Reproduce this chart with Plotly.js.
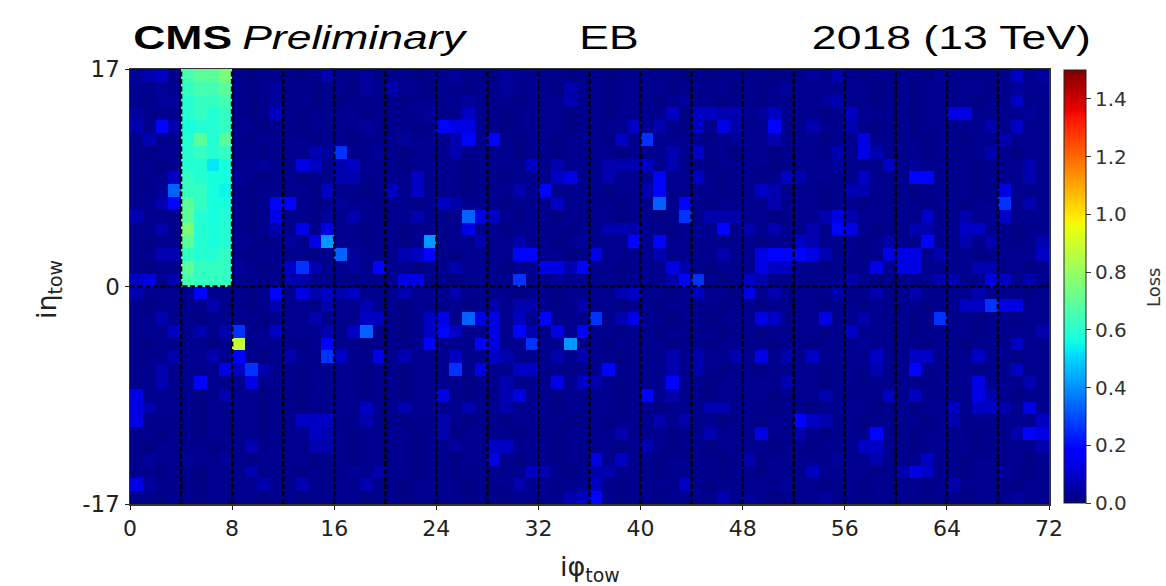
<!DOCTYPE html>
<html>
<head>
<meta charset="utf-8">
<script src="https://cdn.plot.ly/plotly-3.0.1.min.js"></script>
<style>
  html, body { margin: 0; padding: 0; background: #fff; }
  #chart { width: 1166px; height: 586px; }
</style>
</head>
<body>
<div id="chart"></div>
<script>
// Loss per trigger tower in the ECAL barrel (EB), 72 iphi x 34 ieta towers.
// Each row string holds one ieta ring (iphi 0..71, grouped by 4-tower sectors);
// every character is a code looked up in LEVEL_CODES / LEVEL_VALUES.
const LEVEL_CODES  = '0123456789abcdefghi';
const LEVEL_VALUES = [0.005, 0.018, 0.035, 0.06, 0.09, 0.13, 0.19, 0.26, 0.33, 0.41,
                      0.53, 0.55, 0.57, 0.59, 0.62, 0.65, 0.69, 0.75, 0.88];

// EB+ rings, ieta bin [16,17] first, down to [0,1]
const etaPlusRows = [
  '2341 fggh 1011 1013 1120 1101 1211 0211 1101 1011 1110 1011 1101 1213 1011 1102 1111 1412',
  '1121 effg 1012 1101 1021 3110 1101 1211 1031 1011 1101 1110 1012 1111 1101 1011 1110 1211',
  '1122 deef 1012 1101 0111 1011 1121 1101 1131 1011 1012 1101 1011 1123 1101 1011 1101 1411',
  '2111 dede 1014 1011 1101 1112 1141 1011 1101 1011 1140 4433 1241 1101 4111 1011 5511 1121',
  '3163 cdde 1101 1011 1121 1101 6551 1011 1101 1114 1310 4153 1161 1311 3101 1011 1113 1411',
  '1311 dgdg 1011 1101 1011 1211 1361 6101 1011 1041 7111 1012 1131 1101 1511 1101 1011 3111',
  '1011 dede 1101 1132 7112 1011 1311 1101 1011 1101 1131 4110 1101 1113 1531 1101 1113 1011',
  '1101 ddac 1121 1541 3411 1011 1101 1114 1311 1333 4131 1011 1101 1112 1114 1211 1101 1131',
  '1114 edcc 2101 1011 3311 1141 1101 1011 1451 1311 1611 4101 1014 3111 1411 1661 1101 1131',
  '1128 eecb 1011 1104 1101 4141 1101 1131 6111 1011 3611 1101 1431 1101 3311 1011 1101 5111',
  '1136 gecc 1016 6101 2110 1101 4311 1011 1411 1101 1816 1011 1131 1101 1011 1101 1011 7131',
  '3111 gdcd 1015 1102 1311 1131 1185 4101 1011 1101 1017 1333 1101 1135 3111 1141 1311 4111',
  '1131 hdcd 1013 1515 1101 1011 1151 1011 1101 1333 1101 1161 3131 1316 5101 1331 1441 1011',
  '1011 gdcd 1101 2159 1101 1019 1113 1131 1012 1116 1611 1101 1011 4311 1013 1161 1313 1013',
  '1133 edde 1011 1101 8211 1346 1011 1166 1101 5111 1311 1131 1566 6531 1015 5513 1101 1114',
  '1011 geee 2101 4731 1216 1101 1311 1011 5536 1101 1153 1011 1544 1101 1151 5511 1133 1101',
  '4513 feee 1101 3311 1011 1551 1011 1171 1211 1101 1136 7101 4311 1011 3101 1113 3115 4131'
];

// EB- rings, ieta bin [-1,0] first, down to [-17,-16]
const etaMinusRows = [
  '3111 1611 1016 1534 3411 1311 1311 1101 1011 1134 1101 4110 5131 1113 1131 1311 1131 1101',
  '1011 1131 1013 1103 1131 1011 1101 3133 1013 1101 1011 1101 1011 1101 1011 1101 1447 5511',
  '1131 1011 1101 1131 1144 1014 5185 5141 6111 7135 1101 1011 1541 1151 1311 1017 1101 1011',
  '1114 1313 7114 1113 1481 1014 6411 5163 1516 1101 1011 1101 1011 1101 4111 1011 1101 1113',
  '1011 1101 i111 1016 1101 1016 1116 5117 1191 1011 1101 1011 1101 1011 1211 1101 1011 1411',
  '1113 1131 6101 3117 4115 1311 1411 4311 1313 1101 1131 3113 1513 1411 1141 1441 1141 1011',
  '1131 1115 4731 1011 1101 1011 1715 1144 1101 1611 1131 3101 1011 1101 1131 1611 1101 1411',
  '1131 1611 1511 1011 1101 1011 1101 1311 1514 3101 1161 1011 1113 1101 1011 1101 1151 1131',
  '5111 1013 1101 1011 1101 1011 5101 1351 1011 1101 6131 1011 1101 1131 1114 1411 1153 1011',
  '5311 1011 1101 1011 1141 1311 1131 1311 1011 1101 1011 1331 1101 1011 1101 1011 4144 3151',
  '5111 1011 1101 1444 1131 1011 3101 1011 1101 1011 1313 1101 1011 6431 1011 1101 3111 1114',
  '1101 1011 1101 1143 1011 1101 3011 1101 1011 1131 1101 1311 1511 3101 1161 1011 1101 1365',
  '1011 1101 1311 1133 1011 1101 1211 4411 1011 1101 3101 1011 1101 1011 1441 1011 1101 1113',
  '1211 2112 1011 1101 1011 1101 1011 5101 1011 5141 1011 1101 3011 1112 1131 1141 1011 1101',
  '1101 1011 1311 1011 1213 1101 1011 1114 3101 3311 1011 1101 1011 1411 1101 3541 1011 2101',
  '5211 1011 1131 1311 1131 1011 1101 1131 1011 4101 1114 1011 1112 1101 1011 1101 3111 1011',
  '1101 1011 1101 1011 1101 1011 1101 1011 1134 6101 1011 1131 2101 1121 1011 1101 1011 1211'
];

const phiTickVals = [0, 8, 16, 24, 32, 40, 48, 56, 64, 72];
const etaTickVals = [-17, 0, 17];
const lossTickVals = [0.0, 0.2, 0.4, 0.6, 0.8, 1.0, 1.2, 1.4];
const lossTickText = ['0.0', '0.2', '0.4', '0.6', '0.8', '1.0', '1.2', '1.4'];

// decode a ring string into loss values
function decodeRow(s) {
  return s.replace(/ /g, '').split('').map(ch => LEVEL_VALUES[LEVEL_CODES.indexOf(ch)]);
}
// heatmap rows go bottom (ieta -17) to top (ieta +17)
const z = etaPlusRows.concat(etaMinusRows).map(decodeRow).reverse();

// matplotlib "jet"
const jet = [
  [0.000, 'rgb(0,0,128)'],
  [0.110, 'rgb(0,0,255)'],
  [0.125, 'rgb(0,0,255)'],
  [0.340, 'rgb(0,219,255)'],
  [0.350, 'rgb(0,230,247)'],
  [0.375, 'rgb(20,255,226)'],
  [0.640, 'rgb(239,255,8)'],
  [0.650, 'rgb(247,245,0)'],
  [0.660, 'rgb(255,236,0)'],
  [0.890, 'rgb(255,19,0)'],
  [0.910, 'rgb(232,0,0)'],
  [1.000, 'rgb(128,0,0)']
];

// plot frame in pixels
const L = 130, R = 1049, T = 69, B = 504;
const W = R - L, H = B - T;
const px2x = px => (px - L) / W;
const px2y = py => (B - py) / H;

// dashed sector boundaries every 4 towers in iphi, and ieta = 0
const DASH = {color: 'black', width: 2.5, dash: '5px,2.5px'};
const shapes = [];
for (let p = 4; p < 72; p += 4) {
  shapes.push({type: 'line', xref: 'x', yref: 'y', x0: p, x1: p, y0: -17, y1: 17,
               layer: 'above', line: DASH});
}
shapes.push({type: 'line', xref: 'x', yref: 'y', x0: 0, x1: 72, y0: 0, y1: 0,
             layer: 'above', line: DASH});

const TITLE_FONT = 'Liberation Sans, Arial, Helvetica, sans-serif';
const AXIS_FONT = 'DejaVu Sans, sans-serif';

const trace = {
  type: 'heatmap',
  z: z,
  x0: 0.5, dx: 1,
  y0: -16.5, dy: 1,
  zmin: 0, zmax: 1.5,
  colorscale: jet,
  zsmooth: false,
  hoverinfo: 'skip',
  colorbar: {
    x: px2x(1064), xanchor: 'left', xpad: 0,
    y: 0.5, yanchor: 'middle', ypad: 0,
    len: 0.995, lenmode: 'fraction',
    thickness: 22, thicknessmode: 'pixels',
    outlinewidth: 1, outlinecolor: '#222',
    ticks: 'outside', ticklen: 5, tickcolor: '#333',
    tickvals: lossTickVals, ticktext: lossTickText,
    tickfont: {family: AXIS_FONT, size: 20, color: '#333'}
  }
};

const layout = {
  width: 1166, height: 586,
  margin: {l: L, r: 1166 - R, t: T, b: 586 - B, pad: 0},
  paper_bgcolor: '#fff', plot_bgcolor: '#fff',
  showlegend: false,
  xaxis: {
    range: [0, 72], tickvals: phiTickVals, ticktext: phiTickVals.map(String),
    ticks: 'outside', ticklen: 4, tickcolor: '#222',
    showline: true, mirror: true, linecolor: '#333', linewidth: 1.5,
    showgrid: false, zeroline: false,
    tickfont: {family: AXIS_FONT, size: 22, color: '#222'}
  },
  yaxis: {
    range: [-17, 17], tickvals: etaTickVals, ticktext: etaTickVals.map(String),
    ticks: 'outside', ticklen: 4, tickcolor: '#222',
    showline: true, mirror: true, linecolor: '#333', linewidth: 1.5,
    showgrid: false, zeroline: false,
    tickfont: {family: AXIS_FONT, size: 23, color: '#222'}
  },
  shapes: shapes,
  annotations: [
    {text: '<b>CMS</b>', xref: 'paper', yref: 'paper', x: px2x(182), y: px2y(37),
     xanchor: 'center', yanchor: 'middle', showarrow: false,
     font: {family: TITLE_FONT, size: 33, color: '#000'}},
    {text: '<i>Preliminary</i>', xref: 'paper', yref: 'paper', x: px2x(354.5), y: px2y(37),
     xanchor: 'center', yanchor: 'middle', showarrow: false,
     font: {family: TITLE_FONT, size: 33, color: '#000'}},
    {text: 'EB', xref: 'paper', yref: 'paper', x: px2x(608.5), y: px2y(37),
     xanchor: 'center', yanchor: 'middle', showarrow: false,
     font: {family: TITLE_FONT, size: 33, color: '#000'}},
    {text: '2018 (13 TeV)', xref: 'paper', yref: 'paper', x: px2x(951), y: px2y(37),
     xanchor: 'center', yanchor: 'middle', showarrow: false,
     font: {family: TITLE_FONT, size: 33, color: '#000'}},
    {text: 'iφ<sub>tow</sub>', xref: 'paper', yref: 'paper', x: px2x(590), y: px2y(568),
     xanchor: 'center', yanchor: 'middle', showarrow: false,
     font: {family: AXIS_FONT, size: 27, color: '#222'}},
    {text: 'iη<sub>tow</sub>', xref: 'paper', yref: 'paper', x: px2x(48), y: px2y(290),
     xanchor: 'center', yanchor: 'middle', showarrow: false, textangle: -90,
     font: {family: AXIS_FONT, size: 27, color: '#222'}},
    {text: 'Loss', xref: 'paper', yref: 'paper', x: px2x(1153), y: px2y(288),
     xanchor: 'center', yanchor: 'middle', showarrow: false, textangle: -90,
     font: {family: AXIS_FONT, size: 18, color: '#333'}}
  ]
};

Plotly.newPlot('chart', [trace], layout, {staticPlot: true, displayModeBar: false})
  .then(gd => {
    // the header line is set in a wide face: widen each header text in place
    const stretch = 1.35;
    gd.querySelectorAll('g.annotation').forEach(g => {
      const idx = +g.getAttribute('data-index');
      if (idx > 3) return;
      const t = g.querySelector('text.annotation-text');
      if (!t) return;
      const w = t.getComputedTextLength();
      t.setAttribute('lengthAdjust', 'spacingAndGlyphs');
      t.setAttribute('textLength', (w * stretch).toFixed(1));
    });
  });
</script>
</body>
</html>
